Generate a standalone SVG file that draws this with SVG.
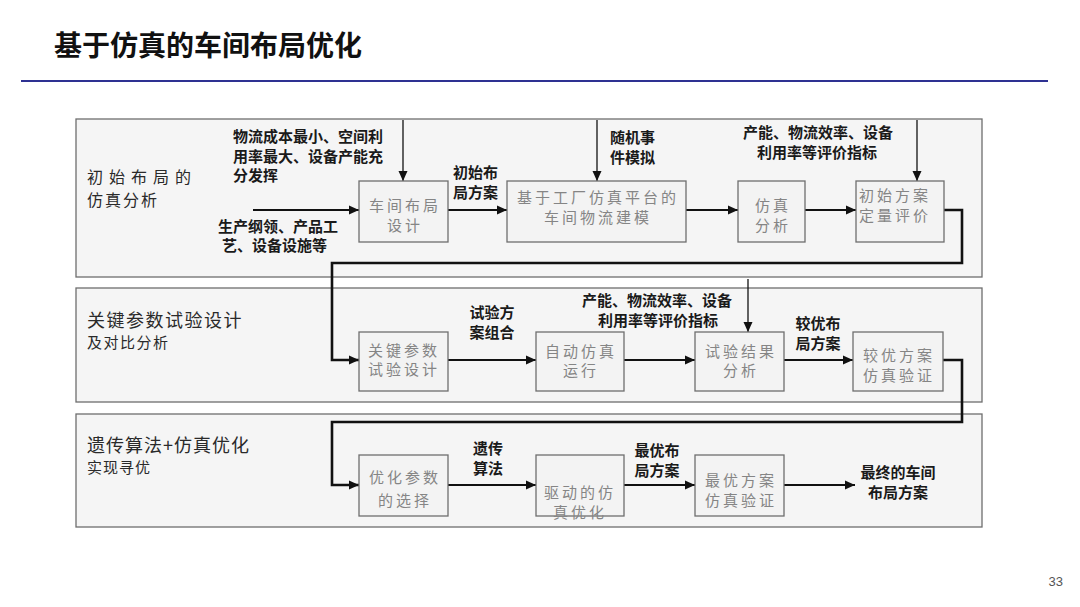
<svg xmlns="http://www.w3.org/2000/svg" width="1080" height="607" viewBox="0 0 1080 607">
<style>
.panel{fill:#f5f5f5;stroke:#6e6e6e;stroke-width:1.3}
.box{fill:#f3f3f3;stroke:#6e6e6e;stroke-width:1.3}
.bt{font-family:"Noto Sans CJK SC","Noto Sans",sans-serif;font-size:15px;fill:#858585;letter-spacing:3px;text-anchor:middle}
.lb{font-family:"Noto Sans CJK SC","Noto Sans",sans-serif;font-size:15px;font-weight:bold;fill:#1a1a1a}
.lbm{font-family:"Noto Sans CJK SC","Noto Sans",sans-serif;font-size:15px;font-weight:bold;fill:#1a1a1a;text-anchor:middle}
.pl{font-family:"Noto Sans CJK SC","Noto Sans",sans-serif;fill:#2a2a2a}
.c{fill:none;stroke:#111;stroke-width:2}
.ct{fill:none;stroke:#111;stroke-width:1.3}
.ck{fill:none;stroke:#111;stroke-width:2.6}
</style>
<defs>
<marker id="ah" viewBox="0 0 10 10" refX="10" refY="5" markerWidth="10" markerHeight="10" markerUnits="userSpaceOnUse" orient="auto">
<path d="M0,0.5 L10,5 L0,9.5 Z" fill="#111"/>
</marker>
</defs>
<rect width="1080" height="607" fill="#ffffff"/>
<g id="title">
<text x="54" y="56" font-family="'Noto Sans CJK SC','Noto Sans',sans-serif" font-size="28" font-weight="bold" fill="#111">基于仿真的车间布局优化</text>
<line x1="21" y1="81" x2="1048" y2="81" stroke="#2e3192" stroke-width="2"/>
</g>
<g id="panels">
<rect class="panel" x="76" y="119" width="906" height="158"/>
<rect class="panel" x="76" y="288" width="906" height="114"/>
<rect class="panel" x="76" y="414" width="906" height="113"/>
<text class="pl" font-size="16"><tspan x="87" y="182.5" letter-spacing="6">初始布局的</tspan><tspan x="87" y="205.5" letter-spacing="2">仿真分析</tspan></text>
<text class="pl" letter-spacing="1.5"><tspan x="87" y="326.5" font-size="18">关键参数试验设计</tspan><tspan x="87" y="347.5" font-size="15">及对比分析</tspan></text>
<text class="pl" letter-spacing="1"><tspan x="87" y="451.5" font-size="18">遗传算法+仿真优化</tspan><tspan x="87" y="472.5" font-size="15">实现寻优</tspan></text>
</g>
<g id="connectors">
<line class="ct" x1="403" y1="120" x2="403" y2="181" marker-end="url(#ah)"/>
<line class="c" x1="253" y1="210" x2="359" y2="210" marker-end="url(#ah)"/>
<line class="c" x1="448" y1="210" x2="507" y2="210" marker-end="url(#ah)"/>
<line class="ct" x1="597" y1="120" x2="597" y2="181" marker-end="url(#ah)"/>
<line class="c" x1="686" y1="210" x2="738" y2="210" marker-end="url(#ah)"/>
<line class="c" x1="805" y1="210" x2="856" y2="210" marker-end="url(#ah)"/>
<line class="ct" x1="917" y1="120" x2="917" y2="181" marker-end="url(#ah)"/>
<polyline class="ck" points="944,210 962,210 962,263 332,263 332,360 359,360" marker-end="url(#ah)"/>
<line class="c" x1="448" y1="360" x2="536" y2="360" marker-end="url(#ah)"/>
<line class="c" x1="624" y1="360" x2="695" y2="360" marker-end="url(#ah)"/>
<line class="ct" x1="748" y1="279" x2="748" y2="332" marker-end="url(#ah)"/>
<line class="c" x1="784" y1="360" x2="853" y2="360" marker-end="url(#ah)"/>
<polyline class="ck" points="943,360 962,360 962,422 332,422 332,485 359,485" marker-end="url(#ah)"/>
<line class="c" x1="448" y1="485" x2="536" y2="485" marker-end="url(#ah)"/>
<line class="c" x1="624" y1="485" x2="695" y2="485" marker-end="url(#ah)"/>
<line class="c" x1="784" y1="485" x2="855" y2="485" marker-end="url(#ah)"/>
</g>
<g id="labels">
<text class="lb"><tspan x="233" y="142">物流成本最小、空间利</tspan><tspan x="233" y="161.5">用率最大、设备产能充</tspan><tspan x="233" y="181">分发挥</tspan></text>
<text class="lb"><tspan x="218" y="231.5">生产纲领、产品工</tspan><tspan x="222" y="251">艺、设备设施等</tspan></text>
<text class="lb"><tspan x="453" y="177.5">初始布</tspan><tspan x="453" y="197.5">局方案</tspan></text>
<text class="lb"><tspan x="610" y="143">随机事</tspan><tspan x="610" y="162.5">件模拟</tspan></text>
<text class="lb"><tspan x="743" y="138">产能、物流效率、设备</tspan><tspan x="757" y="157.5">利用率等评价指标</tspan></text>
<text class="lbm"><tspan x="492" y="318">试验方</tspan><tspan x="492" y="337.5">案组合</tspan></text>
<text class="lbm"><tspan x="657" y="306">产能、物流效率、设备</tspan><tspan x="658" y="325.5">利用率等评价指标</tspan></text>
<text class="lbm"><tspan x="818" y="328.5">较优布</tspan><tspan x="818" y="348.5">局方案</tspan></text>
<text class="lbm"><tspan x="488" y="453.5">遗传</tspan><tspan x="488" y="473.5">算法</tspan></text>
<text class="lbm"><tspan x="657" y="455.5">最优布</tspan><tspan x="657" y="475.5">局方案</tspan></text>
<text class="lbm"><tspan x="898" y="478">最终的车间</tspan><tspan x="898" y="497.5">布局方案</tspan></text>
</g>
<g id="n1">
<rect class="box" x="359" y="181" width="89" height="61"/>
<text class="bt"><tspan x="405" y="210.5">车间布局</tspan><tspan x="405" y="230.5">设计</tspan></text>
</g>
<g id="n2">
<rect class="box" x="507" y="181" width="179" height="61"/>
<text class="bt"><tspan x="598" y="202.5">基于工厂仿真平台的</tspan><tspan x="598" y="222.5">车间物流建模</tspan></text>
</g>
<g id="n3">
<rect class="box" x="738" y="181" width="67" height="61"/>
<text class="bt"><tspan x="773" y="210.5">仿真</tspan><tspan x="773" y="230.5">分析</tspan></text>
</g>
<g id="n4">
<rect class="box" x="856" y="181" width="88" height="61"/>
<text class="bt"><tspan x="895" y="200.5">初始方案</tspan><tspan x="895" y="220.5">定量评价</tspan></text>
</g>
<g id="n5">
<rect class="box" x="359" y="332" width="89" height="59"/>
<text class="bt"><tspan x="404" y="355.5">关键参数</tspan><tspan x="404" y="375">试验设计</tspan></text>
</g>
<g id="n6">
<rect class="box" x="536" y="332" width="88" height="59"/>
<text class="bt"><tspan x="581" y="356.5">自动仿真</tspan><tspan x="581" y="376">运行</tspan></text>
</g>
<g id="n7">
<rect class="box" x="695" y="332" width="89" height="59"/>
<text class="bt"><tspan x="741" y="356.5">试验结果</tspan><tspan x="741" y="376">分析</tspan></text>
</g>
<g id="n8">
<rect class="box" x="853" y="332" width="90" height="59"/>
<text class="bt"><tspan x="899" y="360.5">较优方案</tspan><tspan x="899" y="380.5">仿真验证</tspan></text>
</g>
<g id="n9">
<rect class="box" x="359" y="455" width="89" height="61"/>
<text class="bt"><tspan x="405" y="482.5">优化参数</tspan><tspan x="405" y="505.5">的选择</tspan></text>
</g>
<g id="n10">
<rect class="box" x="536" y="455" width="88" height="61"/>
<text class="bt"><tspan x="580" y="498">驱动的仿</tspan><tspan x="580" y="517.5">真优化</tspan></text>
</g>
<g id="n11">
<rect class="box" x="695" y="455" width="89" height="61"/>
<text class="bt"><tspan x="741" y="485.5">最优方案</tspan><tspan x="741" y="505.5">仿真验证</tspan></text>
</g>
<g id="page">
<text x="1063" y="586" font-family="'Liberation Sans',Arial,sans-serif" font-size="13" fill="#555" text-anchor="end">33</text>
</g>
</svg>
